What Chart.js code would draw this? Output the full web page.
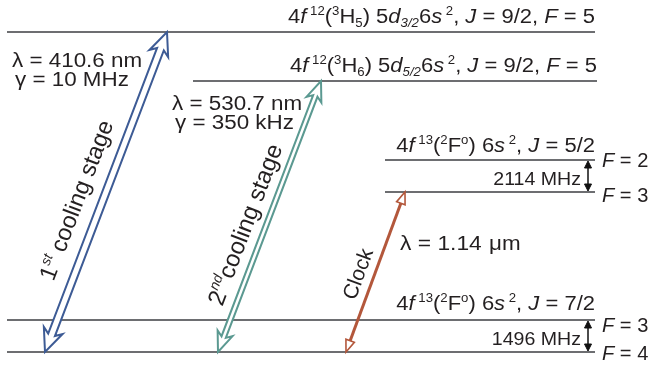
<!DOCTYPE html>
<html>
<head>
<meta charset="utf-8">
<script src="https://cdn.jsdelivr.net/npm/chart.js@4.4.1/dist/chart.umd.min.js"></script>
<style>
  body { margin: 0; background: #fff; }
  #wrap { width: 648px; height: 369px; position: relative; }
</style>
</head>
<body>
<div id="wrap"><canvas id="levels"></canvas></div>
<script>
// energy levels (diagram units, ground F=4 at bottom)
const levelNames = ['J7/2 F4', 'J7/2 F3', 'J5/2 F3', 'J5/2 F2', '5d5/2 F5', '5d3/2 F5'];
const levelEnergy = [17, 49, 177, 209, 288, 337];
const levelStart = [7, 7, 385, 385, 193, 7];
const levelEnd = [595, 595, 595, 595, 597, 595];

// transitions: lower level index, upper level index, x at each end
const transNames = ['1st cooling', '2nd cooling', 'Clock'];
const transLower = [0, 0, 0];
const transUpper = [5, 4, 2];
const transLowerX = [45, 218, 346];
const transUpperX = [167, 321, 405];

// hyperfine splittings
const splitLabels = ['2114 MHz', '1496 MHz'];
const splitPairs = [[2, 3], [0, 1]];
const splitX = 588;

const textColor = '#231f20';
const levelColor = '#6d6e71';
const transColors = ['#3d5b95', '#5b9991', '#b3573b'];
const fontFamily = '"Liberation Sans", Arial, Helvetica, sans-serif';

/**
 * Draw a list of text runs: [text, style]
 * styles: n normal, i italic, sup, supi, sub, subi
 */
function runFont(style, size) {
    const small = style.startsWith('sup') || style.startsWith('sub');
    const italic = style.endsWith('i');
    const s = small ? Math.round(size * 0.58) : size;
    return (italic ? 'italic ' : '') + s + 'px ' + fontFamily;
}

function runsWidth(ctx, runs, size) {
    let w = 0;
    runs.forEach(r => {
        ctx.font = runFont(r[1], size);
        w += ctx.measureText(r[0]).width;
    });
    return w;
}

function drawRuns(ctx, runs, x, y, align, size, hscale) {
    hscale = hscale || 1;
    ctx.save();
    ctx.translate(x, y);
    ctx.scale(hscale, 1);
    let cx = 0;
    if (align === 'right') cx = -runsWidth(ctx, runs, size);
    ctx.textBaseline = 'alphabetic';
    ctx.textAlign = 'left';
    ctx.fillStyle = textColor;
    runs.forEach(r => {
        ctx.font = runFont(r[1], size);
        let dy = 0;
        if (r[1].startsWith('sup')) dy = -size * 0.42;
        if (r[1].startsWith('sub')) dy = size * 0.2;
        ctx.fillText(r[0], cx, dy);
        cx += ctx.measureText(r[0]).width;
    });
    ctx.restore();
}

const labelTop = [['4', 'n'], ['f', 'i'], [' 12', 'sup'], ['(', 'n'], ['3', 'sup'], ['H', 'n'], ['5', 'sub'],
    [') 5', 'n'], ['d', 'i'], ['3/2', 'subi'], ['6', 'n'], ['s', 'i'], [' 2', 'sup'], [', ', 'n'], ['J', 'i'],
    [' = 9/2, ', 'n'], ['F', 'i'], [' = 5', 'n']];
const labelSecond = [['4', 'n'], ['f', 'i'], [' 12', 'sup'], ['(', 'n'], ['3', 'sup'], ['H', 'n'], ['6', 'sub'],
    [') 5', 'n'], ['d', 'i'], ['5/2', 'subi'], ['6', 'n'], ['s', 'i'], [' 2', 'sup'], [', ', 'n'], ['J', 'i'],
    [' = 9/2, ', 'n'], ['F', 'i'], [' = 5', 'n']];
const labelJ52 = [['4', 'n'], ['f', 'i'], [' 13', 'sup'], ['(', 'n'], ['2', 'sup'], ['F', 'n'], ['o', 'sup'],
    [') 6', 'n'], ['s', 'i'], [' 2', 'sup'], [', ', 'n'], ['J', 'i'], [' = 5/2', 'n']];
const labelJ72 = [['4', 'n'], ['f', 'i'], [' 13', 'sup'], ['(', 'n'], ['2', 'sup'], ['F', 'n'], ['o', 'sup'],
    [') 6', 'n'], ['s', 'i'], [' 2', 'sup'], [', ', 'n'], ['J', 'i'], [' = 7/2', 'n']];
const fLabels = ['4', '3', '3', '2'];

const transText = [
    [['1', 'n'], ['st', 'supi'], [' cooling stage', 'n']],
    [['2', 'n'], ['nd', 'supi'], ['cooling stage', 'n']],
    [['Clock', 'n']]
];

function hollowDoubleArrow(ctx, a, b, w, hw, hl, color) {
    const dx = b.x - a.x, dy = b.y - a.y;
    const len = Math.hypot(dx, dy);
    const ux = dx / len, uy = dy / len;
    const nx = -uy, ny = ux;
    const p = (o, t, s) => [o.x + ux * t + nx * s, o.y + uy * t + ny * s];
    const pts = [
        p(b, 0, 0), p(b, -hl, hw), p(b, -hl * 0.8, w), p(a, hl * 0.8, w), p(a, hl, hw),
        p(a, 0, 0), p(a, hl, -hw), p(a, hl * 0.8, -w), p(b, -hl * 0.8, -w), p(b, -hl, -hw)
    ];
    ctx.beginPath();
    pts.forEach((q, i) => i ? ctx.lineTo(q[0], q[1]) : ctx.moveTo(q[0], q[1]));
    ctx.closePath();
    ctx.fillStyle = '#fff';
    ctx.fill();
    ctx.strokeStyle = color;
    ctx.lineWidth = 2;
    ctx.lineJoin = 'miter';
    ctx.stroke();
}

function lineArrow(ctx, a, b, lw, hw, hl, color, hollow) {
    const dx = b.x - a.x, dy = b.y - a.y;
    const len = Math.hypot(dx, dy);
    const ux = dx / len, uy = dy / len;
    const nx = -uy, ny = ux;
    ctx.strokeStyle = color;
    ctx.lineWidth = lw;
    ctx.beginPath();
    ctx.moveTo(a.x + ux * hl, a.y + uy * hl);
    ctx.lineTo(b.x - ux * hl, b.y - uy * hl);
    ctx.stroke();
    [[b, -1], [a, 1]].forEach(([o, d]) => {
        ctx.beginPath();
        ctx.moveTo(o.x, o.y);
        ctx.lineTo(o.x + d * ux * hl + nx * hw, o.y + d * uy * hl + ny * hw);
        ctx.lineTo(o.x + d * ux * hl - nx * hw, o.y + d * uy * hl - ny * hw);
        ctx.closePath();
        ctx.fillStyle = hollow ? '#fff' : color;
        ctx.fill();
        ctx.lineWidth = hollow ? 1.6 : 1;
        ctx.stroke();
    });
}

function textAlong(ctx, runs, a, b, t, offset, size) {
    const dx = b.x - a.x, dy = b.y - a.y;
    const len = Math.hypot(dx, dy);
    const ux = dx / len, uy = dy / len;
    ctx.save();
    ctx.translate(a.x + dx * t + uy * offset, a.y + dy * t - ux * offset);
    ctx.rotate(Math.atan2(dy, dx));
    drawRuns(ctx, runs, 0, 0, 'left', size);
    ctx.restore();
}

const diagramPlugin = {
    id: 'diagram',
    afterDatasetsDraw(chart) {
        const ctx = chart.ctx;
        const xs = chart.scales.x, ys = chart.scales.y;
        const px = v => xs.getPixelForValue(v);
        const py = v => ys.getPixelForValue(v);
        ctx.save();

        // transitions
        const ends = transNames.map((n, i) => ({
            a: { x: px(transLowerX[i]), y: py(levelEnergy[transLower[i]]) },
            b: { x: px(transUpperX[i]), y: py(levelEnergy[transUpper[i]]) }
        }));
        hollowDoubleArrow(ctx, ends[0].a, ends[0].b, 3.6, 10, 23, transColors[0]);
        hollowDoubleArrow(ctx, ends[1].a, ends[1].b, 2.3, 8, 20, transColors[1]);
        lineArrow(ctx, ends[2].a, ends[2].b, 3, 4.5, 12, transColors[2], true);

        textAlong(ctx, transText[0], ends[0].a, ends[0].b, 0.2, 17, 23.5);
        textAlong(ctx, transText[1], ends[1].a, ends[1].b, 0.15, 12, 24);
        textAlong(ctx, transText[2], ends[2].a, ends[2].b, 0.3, 9, 21);

        // level labels
        drawRuns(ctx, labelTop, px(595), 23, 'right', 20, 1.1);
        drawRuns(ctx, labelSecond, px(597), 72, 'right', 20, 1.1);
        drawRuns(ctx, labelJ52, px(595), 152, 'right', 20, 1.1);
        drawRuns(ctx, labelJ72, px(595), 310, 'right', 20, 1.1);

        // F labels
        const fOffset = [8, 12, 10, 7];
        [0, 1, 2, 3].forEach(i => {
            drawRuns(ctx, [['F', 'i'], [' = ' + fLabels[i], 'n']], 602, py(levelEnergy[i]) + fOffset[i], 'left', 19.5, 1.03);
        });

        // transition parameters
        drawRuns(ctx, [['\u03bb = 410.6 nm', 'n']], 12, 67, 'left', 20, 1.12);
        drawRuns(ctx, [['\u03b3 = 10 MHz', 'n']], 15, 86, 'left', 20, 1.12);
        drawRuns(ctx, [['\u03bb = 530.7 nm', 'n']], 172, 110, 'left', 20, 1.12);
        drawRuns(ctx, [['\u03b3 = 350 kHz', 'n']], 175, 129, 'left', 20, 1.12);
        drawRuns(ctx, [['\u03bb = 1.14', 'n']], 400, 250, 'left', 20, 1.14);
        drawRuns(ctx, [['\u03bcm', 'n']], 489, 250, 'left', 20, 1.12);

        // hyperfine splittings
        const splitBase = [185, 345];
        splitPairs.forEach((pr, i) => {
            const y0 = py(levelEnergy[pr[0]]), y1 = py(levelEnergy[pr[1]]);
            drawRuns(ctx, [[splitLabels[i], 'n']], 581, splitBase[i], 'right', 19, 1.03);
            lineArrow(ctx, { x: px(splitX), y: y0 - 1 }, { x: px(splitX), y: y1 + 1 }, 1.5, 3.5, 7, '#111', false);
        });
        ctx.restore();
    }
};

const levelDatasets = levelNames.map((name, i) => ({
    label: name,
    data: [{ x: levelStart[i], y: levelEnergy[i] }, { x: levelEnd[i], y: levelEnergy[i] }],
    showLine: true,
    borderColor: levelColor,
    borderWidth: 2.2,
    pointRadius: 0,
    fill: false
}));

new Chart(document.getElementById('levels').getContext('2d'), {
    type: 'scatter',
    data: { datasets: levelDatasets },
    options: {
        responsive: true,
        maintainAspectRatio: false,
        animation: false,
        layout: { padding: 0 },
        plugins: { legend: { display: false }, tooltip: { enabled: false } },
        scales: {
            x: { type: 'linear', min: 0, max: 648, display: false },
            y: { type: 'linear', min: 0, max: 369, display: false }
        }
    },
    plugins: [diagramPlugin]
});
</script>
</body>
</html>
